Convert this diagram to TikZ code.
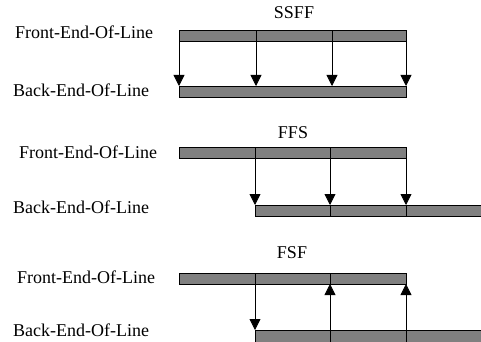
\documentclass[tikz,border=0pt]{standalone}
\usepackage{fontspec}
\setmainfont{Liberation Serif}
\usepackage{tikz}
\usetikzlibrary{arrows.meta,positioning,calc}

\begin{document}
\begin{tikzpicture}[x=1pt,y=-1pt,>={Triangle[width=11pt,length=11pt]},
	every node/.style={font=\fontsize{18}{21}\selectfont,inner sep=0pt},
	cell/.style={draw=black,fill=gray,line width=0.8pt,minimum height=11pt,inner sep=0pt,outer sep=0pt},
	link/.style={->,line width=0.8pt}]
\useasboundingbox (0,0) rectangle (481,342);

% SSFF
\node[anchor=base] (t1) at (294,19) {SSFF};
\node[anchor=base west] (fl1) at (15,39) {Front-End-Of-Line};
\node[anchor=base west] (bl1) at (13,96) {Back-End-Of-Line};
\node[cell,minimum width=77pt,anchor=north west] (f1a) at (179,30) {};
\node[cell,minimum width=76pt,right=0pt of f1a] (f1b) {};
\node[cell,minimum width=74pt,right=0pt of f1b] (f1c) {};
\node[cell,minimum width=227pt,anchor=north west] (b1) at (179,86) {};
\draw[link] (f1a.south west)-- (f1a.south west |- b1.north);
\draw[link] (f1a.south east)-- (f1a.south east |- b1.north);
\draw[link] (f1b.south east)-- (f1b.south east |- b1.north);
\draw[link] (f1c.south east)-- (b1.north east);

% FFS
\node[anchor=base] (t2) at (293,138) {FFS};
\node[anchor=base west] (fl2) at (19,158) {Front-End-Of-Line};
\node[anchor=base west] (bl2) at (13,213) {Back-End-Of-Line};
\node[cell,minimum width=76pt,anchor=north west] (f2a) at (179,147) {};
\node[cell,minimum width=75pt,right=0pt of f2a] (f2b) {};
\node[cell,minimum width=76pt,right=0pt of f2b] (f2c) {};
\node[cell,minimum width=75pt,anchor=north west] (b2a) at (255,205) {};
\node[cell,minimum width=76pt,right=0pt of b2a] (b2b) {};
\node[cell,minimum width=78pt,right=0pt of b2b] (b2c) {};
\draw[link] (f2a.south east)-- (b2a.north west);
\draw[link] (f2b.south east)-- (b2b.north west);
\draw[link] (f2c.south east)-- (b2c.north west);

% FSF
\node[anchor=base] (t3) at (292,258) {FSF};
\node[anchor=base west] (fl3) at (17,283) {Front-End-Of-Line};
\node[anchor=base west] (bl3) at (13,336) {Back-End-Of-Line};
\node[cell,minimum width=76pt,anchor=north west] (f3a) at (179,273) {};
\node[cell,minimum width=75pt,right=0pt of f3a] (f3b) {};
\node[cell,minimum width=76pt,right=0pt of f3b] (f3c) {};
\node[cell,minimum width=75pt,minimum height=14pt,anchor=north west] (b3a) at (255,330) {};
\node[cell,minimum width=76pt,minimum height=14pt,right=0pt of b3a] (b3b) {};
\node[cell,minimum width=78pt,minimum height=14pt,right=0pt of b3b] (b3c) {};
\draw[link] (f3a.south east)-- (b3a.north west);
\draw[link] (b3b.north west)-- (f3b.south east);
\draw[link] (b3c.north west)-- (f3c.south east);
\end{tikzpicture}
\end{document}
